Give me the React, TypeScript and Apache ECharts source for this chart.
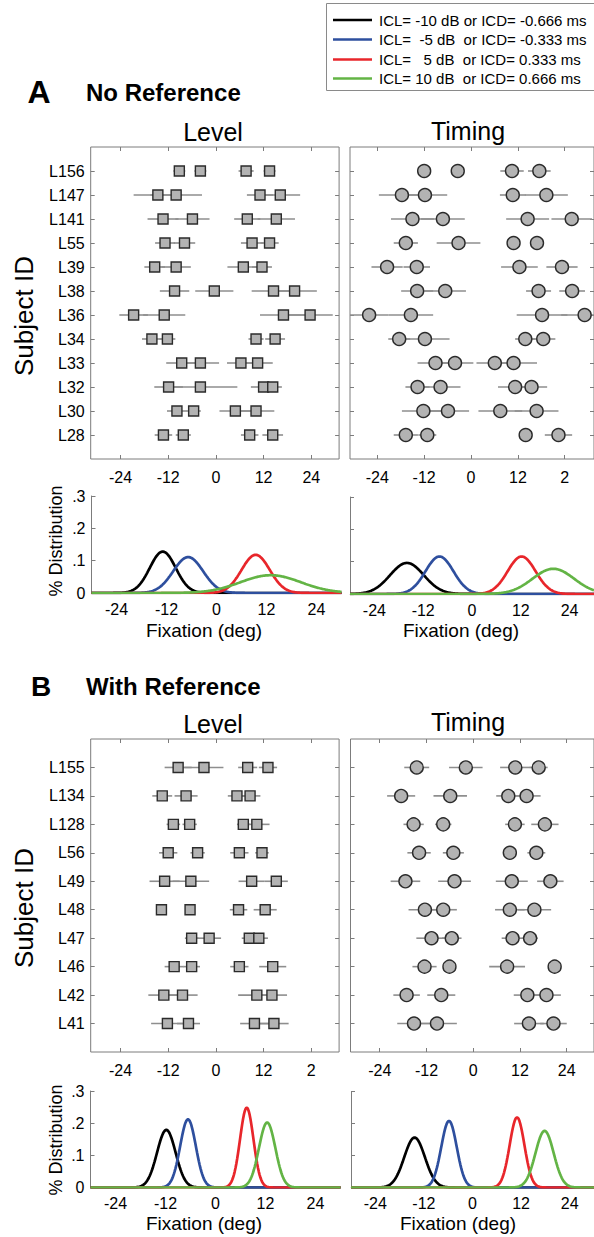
import React, { useEffect, useRef } from "react";
import * as echarts from "echarts";

const FONT = '"Liberation Sans", Arial, Helvetica, sans-serif';

// Stimulus conditions, in plotting order
const conditionLegend = [
  "ICL= -10 dB or ICD= -0.666 ms",
  "ICL=\u00a0\u00a0-5 dB\u00a0\u00a0or ICD= -0.333 ms",
  "ICL=\u00a0\u00a0\u00a05 dB\u00a0\u00a0or ICD= 0.333 ms",
  "ICL= 10 dB\u00a0\u00a0or ICD= 0.666 ms",
];
const conditionColors = ["#000000", "#2e4f9e", "#e8262b", "#63b445"];

// ---- A: no reference ----
const noRefIds = ["L156", "L147", "L141", "L55", "L39", "L38", "L36", "L34", "L33", "L32", "L30", "L28"];
// mean fixation (deg) per subject: [-10 dB, -5 dB, +5 dB, +10 dB]
const noRefLevelMean = [
  [-9.2, -3.9, 7.6, 13.5],
  [-14.6, -10.0, 11.1, 16.2],
  [-13.3, -5.9, 7.9, 15.2],
  [-12.8, -7.9, 9.1, 13.5],
  [-15.4, -10.0, 6.9, 11.6],
  [-10.4, -0.4, 14.5, 19.8],
  [-20.7, -13.0, 17.0, 23.7],
  [-16.1, -12.2, 10.1, 14.9],
  [-8.6, -3.9, 6.3, 10.5],
  [-11.9, -3.9, 12.0, 14.3],
  [-9.8, -5.6, 4.9, 10.1],
  [-13.2, -8.2, 8.5, 14.3],
];
const noRefLevelErr = [
  [1.5, 1.5, 1.9, 1.5],
  [6.1, 6.5, 3.3, 5.0],
  [3.9, 4.3, 3.3, 4.7],
  [2.5, 2.7, 2.8, 2.3],
  [2.6, 3.7, 4.0, 2.5],
  [3.7, 4.8, 5.5, 5.6],
  [3.6, 5.3, 5.9, 5.7],
  [2.5, 2.0, 1.9, 2.5],
  [3.9, 4.7, 3.5, 3.8],
  [3.6, 9.3, 3.2, 2.3],
  [2.5, 1.8, 4.0, 4.6],
  [2.2, 1.9, 2.2, 2.6],
];
const noRefTimingMean = [
  [-12.0, -3.4, 10.5, 17.5],
  [-17.7, -11.8, 10.7, 19.3],
  [-15.0, -7.2, 14.5, 25.8],
  [-16.7, -3.2, 10.9, 16.9],
  [-21.5, -13.9, 12.4, 23.3],
  [-13.8, -6.6, 17.3, 25.9],
  [-26.1, -15.4, 18.2, 29.1],
  [-18.4, -11.8, 13.9, 18.5],
  [-9.1, -4.1, 6.1, 10.9],
  [-13.7, -7.8, 11.3, 15.5],
  [-12.2, -5.9, 7.5, 16.8],
  [-16.7, -11.2, 14.0, 22.4],
];
const noRefTimingErr = [
  [1.0, 1.0, 3.0, 2.9],
  [5.9, 5.7, 3.3, 5.5],
  [5.5, 5.6, 5.5, 5.2],
  [3.1, 5.6, 1.5, 1.5],
  [4.0, 3.4, 4.7, 4.0],
  [4.1, 5.3, 3.2, 3.3],
  [5.0, 5.7, 6.5, 6.0],
  [2.8, 6.3, 2.6, 3.1],
  [4.6, 4.7, 4.7, 6.0],
  [3.1, 5.1, 4.4, 4.0],
  [5.5, 5.4, 5.6, 5.6],
  [3.1, 2.3, 1.5, 3.5],
];
// fitted fixation distributions: centre (deg) and peak height
const noRefLevelFitMean = [-12.9, -6.8, 9.4, 13.0];
const noRefLevelFitPeak = [0.128, 0.111, 0.118, 0.055];
const noRefTimingFitMean = [-16.0, -8.0, 12.2, 20.0];
const noRefTimingFitPeak = [0.096, 0.116, 0.116, 0.078];

// ---- B: with reference ----
const withRefIds = ["L155", "L134", "L128", "L56", "L49", "L48", "L47", "L46", "L42", "L41"];
const withRefLevelMean = [
  [-9.5, -3.0, 8.0, 13.1],
  [-13.5, -7.5, 5.3, 8.6],
  [-10.7, -6.6, 6.9, 10.3],
  [-12.0, -4.6, 5.9, 11.6],
  [-12.9, -6.3, 9.0, 15.2],
  [-13.7, -6.5, 5.7, 12.4],
  [-6.1, -1.7, 8.4, 10.8],
  [-10.5, -6.1, 5.9, 14.3],
  [-13.1, -8.4, 10.3, 14.1],
  [-12.2, -6.9, 9.7, 14.6],
];
const withRefLevelErr = [
  [3.4, 4.9, 2.4, 2.3],
  [2.5, 2.9, 2.3, 2.6],
  [1.7, 1.8, 1.6, 3.2],
  [2.3, 1.8, 2.3, 1.7],
  [3.8, 4.6, 3.3, 2.9],
  [0.8, 0.8, 2.2, 2.9],
  [1.7, 3.0, 1.9, 2.3],
  [2.4, 2.1, 2.3, 3.4],
  [3.9, 3.8, 4.7, 3.8],
  [4.1, 2.9, 3.6, 3.7],
];
const withRefTimingMean = [
  [-14.5, -1.9, 10.8, 16.8],
  [-18.5, -5.9, 9.0, 13.7],
  [-15.3, -7.7, 10.7, 18.4],
  [-13.9, -5.1, 9.4, 16.2],
  [-17.4, -4.8, 9.9, 19.8],
  [-12.4, -7.7, 9.4, 15.7],
  [-10.7, -5.5, 10.1, 14.6],
  [-12.5, -6.1, 8.7, 20.9],
  [-17.1, -8.2, 13.9, 18.8],
  [-15.2, -9.3, 14.3, 20.6],
];
const withRefTimingErr = [
  [3.2, 4.3, 3.9, 2.3],
  [3.6, 4.3, 3.1, 3.6],
  [2.6, 2.1, 2.5, 3.5],
  [3.0, 2.7, 1.8, 2.3],
  [3.8, 4.2, 4.1, 3.4],
  [4.2, 3.5, 3.8, 4.3],
  [3.9, 2.5, 2.8, 2.0],
  [3.1, 1.5, 4.6, 1.0],
  [3.4, 3.6, 3.5, 3.7],
  [4.3, 5.1, 3.8, 3.4],
];
const withRefLevelFitMean = [-11.8, -6.6, 7.5, 12.4];
const withRefLevelFitPeak = [0.179, 0.212, 0.248, 0.202];
const withRefTimingFitMean = [-14.3, -5.8, 11.0, 17.8];
const withRefTimingFitPeak = [0.156, 0.208, 0.219, 0.177];

// ---- axis ticks ----
const fixationTicks = [-24, -12, 0, 12, 24];
const fixationTickLabels = ["-24", "-12", "0", "12", "24"];
const truncatedTickLabels = ["-24", "-12", "0", "12", "2"];
const distributionTicks = [0, 0.1, 0.2, 0.3];
const distributionTickLabels = ["0", ".1", ".2", ".3"];

const BOX = "#7c7c7c";
const BAR = "#8e8e8e";

function labelFor(values: number[], labels: string[], v: number) {
  const i = values.findIndex((t) => Math.abs(t - v) < 1e-6);
  return i >= 0 ? labels[i] : "";
}

// normal density drawn from a fitted centre and peak height (sd = 1 / (peak * sqrt(2*pi)))
function fittedCurve(mu: number, peak: number) {
  const sd = 1 / (peak * Math.sqrt(2 * Math.PI));
  const pts: number[][] = [];
  for (let i = 0; i <= 300; i++) {
    const x = -30 + i * 0.2;
    pts.push([x, peak * Math.exp(-0.5 * ((x - mu) / sd) ** 2)]);
  }
  return pts;
}

type Box = { left: number; top: number; width: number; height: number; xMin: number; xMax: number };

function buildOption() {
  const grid: any[] = [];
  const xAxis: any[] = [];
  const yAxis: any[] = [];
  const series: any[] = [];

  const tickStyle = { color: BOX, width: 1 };
  const labelBase = { fontSize: 16, fontFamily: FONT, color: "#000" };
  const hiddenLine = { show: false, onZero: false };

  const addScatter = (
    box: Box,
    ids: string[],
    means: number[][],
    errs: number[][],
    symbol: string,
    size: number,
    xLabels: string[],
    showIds: boolean
  ) => {
    const gi = grid.length;
    grid.push({
      left: box.left, top: box.top, width: box.width, height: box.height,
      show: true, borderColor: BOX, borderWidth: 1, backgroundColor: "transparent",
    });
    const n = ids.length;
    const rows = ids.map((_, i) => n - i);
    const xi = xAxis.length;
    xAxis.push({
      type: "value", gridIndex: gi, min: box.xMin, max: box.xMax, position: "bottom",
      axisLine: hiddenLine, splitLine: { show: false },
      axisTick: { show: true, inside: true, length: 4, customValues: fixationTicks, lineStyle: tickStyle },
      axisLabel: {
        ...labelBase, margin: 10, customValues: fixationTicks,
        formatter: (v: number) => labelFor(fixationTicks, xLabels, v),
      },
    });
    xAxis.push({
      type: "value", gridIndex: gi, min: box.xMin, max: box.xMax, position: "top",
      axisLine: hiddenLine, splitLine: { show: false },
      axisTick: { show: true, inside: true, length: 4, customValues: fixationTicks, lineStyle: tickStyle },
      axisLabel: { show: false },
    });
    const yi = yAxis.length;
    yAxis.push({
      type: "value", gridIndex: gi, min: 0, max: n + 1, position: "left",
      axisLine: hiddenLine, splitLine: { show: false },
      axisTick: { show: true, inside: true, length: 4, customValues: rows, lineStyle: tickStyle },
      axisLabel: {
        show: showIds, ...labelBase, margin: 6, customValues: rows,
        formatter: (v: number) => ids[n - Math.round(v)] ?? "",
      },
    });
    yAxis.push({
      type: "value", gridIndex: gi, min: 0, max: n + 1, position: "right",
      axisLine: hiddenLine, splitLine: { show: false },
      axisTick: { show: true, inside: true, length: 4, customValues: rows, lineStyle: tickStyle },
      axisLabel: { show: false },
    });

    const bars: number[][] = [];
    const pts: number[][] = [];
    means.forEach((row, i) => {
      row.forEach((m, c) => {
        bars.push([m, n - i, errs[i][c]]);
        pts.push([m, n - i]);
      });
    });
    series.push({
      type: "custom", xAxisIndex: xi, yAxisIndex: yi, clip: true, silent: true, z: 2,
      encode: { x: 0, y: 1 },
      data: bars,
      renderItem: (_p: any, api: any) => {
        const x = api.value(0);
        const y = api.value(1);
        const e = api.value(2);
        const a = api.coord([x - e, y]);
        const b = api.coord([x + e, y]);
        return {
          type: "line",
          shape: { x1: a[0], y1: a[1], x2: b[0], y2: b[1] },
          style: { stroke: BAR, lineWidth: 1.6 },
        };
      },
    });
    series.push({
      type: "scatter", xAxisIndex: xi, yAxisIndex: yi, z: 3, silent: true,
      symbol, symbolSize: size, data: pts,
      itemStyle: { color: "#b3b3b3", borderColor: "#2b2b2b", borderWidth: 1.4, opacity: 1 },
    });
  };

  const addDistribution = (
    left: number, top: number, height: number,
    mus: number[], peaks: number[], showYLabels: boolean
  ) => {
    const gi = grid.length;
    grid.push({ left, top, width: 250, height, show: false });
    const xi = xAxis.length;
    xAxis.push({
      type: "value", gridIndex: gi, min: -30, max: 30, position: "bottom",
      axisLine: { show: true, onZero: false, lineStyle: { color: "#c9b9b9", width: 1 } },
      splitLine: { show: false }, axisTick: { show: false },
      axisLabel: {
        ...labelBase, margin: 8, customValues: fixationTicks,
        formatter: (v: number) => labelFor(fixationTicks, fixationTickLabels, v),
      },
    });
    const yi = yAxis.length;
    yAxis.push({
      type: "value", gridIndex: gi, min: 0, max: 0.3, interval: 0.1, position: "left",
      axisLine: { show: true, onZero: false, lineStyle: { color: BOX, width: 1 } },
      splitLine: { show: false },
      axisTick: { show: true, inside: true, length: 4, lineStyle: tickStyle },
      axisLabel: {
        show: showYLabels, ...labelBase, margin: 6,
        formatter: (v: number) => labelFor(distributionTicks, distributionTickLabels, v),
      },
    });
    mus.forEach((mu, c) => {
      series.push({
        type: "line", xAxisIndex: xi, yAxisIndex: yi, showSymbol: false, silent: true,
        clip: true, z: 2 + c,
        data: fittedCurve(mu, peaks[c]),
        lineStyle: { color: conditionColors[c], width: 2.7 },
      });
    });
  };

  // A: no reference
  addScatter({ left: 90.7, top: 147, width: 248.4, height: 312, xMin: -31.5, xMax: 31 },
    noRefIds, noRefLevelMean, noRefLevelErr, "rect", 10, fixationTickLabels, true);
  addScatter({ left: 350, top: 147, width: 248.4, height: 312, xMin: -31, xMax: 31.5 },
    noRefIds, noRefTimingMean, noRefTimingErr, "circle", 13, truncatedTickLabels, false);
  addDistribution(91.5, 496, 97, noRefLevelFitMean, noRefLevelFitPeak, true);
  addDistribution(350, 497, 97, noRefTimingFitMean, noRefTimingFitPeak, false);

  // B: with reference
  addScatter({ left: 90.7, top: 739, width: 248.4, height: 313, xMin: -31.5, xMax: 31 },
    withRefIds, withRefLevelMean, withRefLevelErr, "rect", 10, truncatedTickLabels, true);
  addScatter({ left: 350.5, top: 739, width: 248.4, height: 313, xMin: -31.5, xMax: 31 },
    withRefIds, withRefTimingMean, withRefTimingErr, "circle", 13, fixationTickLabels, false);
  addDistribution(90.5, 1091, 96.5, withRefLevelFitMean, withRefLevelFitPeak, true);
  addDistribution(351, 1091.5, 96, withRefTimingFitMean, withRefTimingFitPeak, false);

  const txt = (x: number, y: number, text: string, size: number, opts: any = {}) => ({
    type: "text",
    x, y,
    rotation: opts.rotation ?? 0,
    silent: true,
    style: {
      text,
      fill: "#000",
      font: `${opts.bold ? "bold " : ""}${size}px ${FONT}`,
      textAlign: opts.align ?? "center",
      textVerticalAlign: "middle",
    },
  });

  const graphic: any[] = [
    txt(39, 92, "A", 32, { bold: true }),
    txt(86, 92, "No Reference", 24, { bold: true, align: "left" }),
    txt(213, 132, "Level", 25),
    txt(468, 131, "Timing", 25),
    txt(24, 316, "Subject ID", 26, { rotation: Math.PI / 2 }),
    txt(56, 541, "% Distribution", 18, { rotation: Math.PI / 2 }),
    txt(204, 630, "Fixation (deg)", 19),
    txt(461, 630, "Fixation (deg)", 19),

    txt(41, 686, "B", 28, { bold: true }),
    txt(86, 686, "With Reference", 24, { bold: true, align: "left" }),
    txt(213, 724, "Level", 25),
    txt(468, 722, "Timing", 25),
    txt(24, 908, "Subject ID", 26, { rotation: Math.PI / 2 }),
    txt(56, 1140, "% Distribution", 18, { rotation: Math.PI / 2 }),
    txt(204, 1223, "Fixation (deg)", 19),
    txt(458, 1223, "Fixation (deg)", 19),

    {
      type: "rect", silent: true,
      shape: { x: 326.5, y: 3.5, width: 280, height: 87 },
      style: { fill: "#fff", stroke: "#8a8a8a", lineWidth: 1 },
    },
  ];
  const legendRows = [20, 39.5, 59.5, 78.5];
  conditionLegend.forEach((label, i) => {
    graphic.push({
      type: "line", silent: true,
      shape: { x1: 333, y1: legendRows[i], x2: 372, y2: legendRows[i] },
      style: { stroke: conditionColors[i], lineWidth: 2.6 },
    });
    graphic.push(txt(379, legendRows[i], label, 15, { align: "left" }));
  });

  return {
    animation: false,
    backgroundColor: "#fff",
    textStyle: { fontFamily: FONT },
    grid, xAxis, yAxis, series, graphic,
  };
}

export default function App() {
  const ref = useRef<HTMLDivElement>(null);
  useEffect(() => {
    if (!ref.current) return;
    const chart = echarts.init(ref.current, undefined, { renderer: "svg" });
    chart.setOption(buildOption());
    return () => chart.dispose();
  }, []);
  return (
    <div
      ref={ref}
      style={{ position: "absolute", left: 0, top: 0, width: 594, height: 1237, background: "#fff" }}
    />
  );
}
